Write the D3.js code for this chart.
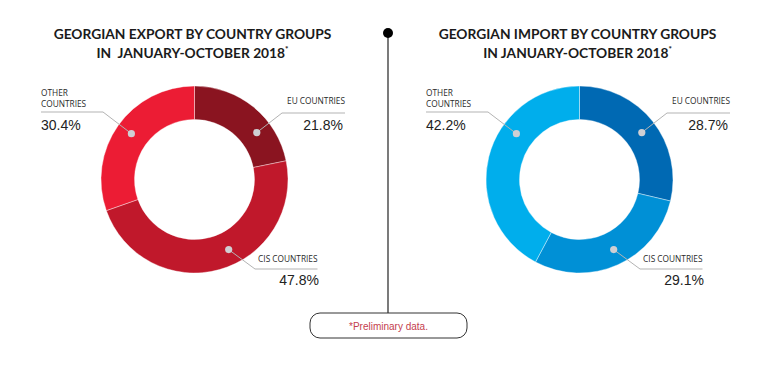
<!DOCTYPE html>
<html>
<head>
<meta charset="utf-8">
<script src="https://cdn.jsdelivr.net/npm/d3@7"></script>
<style>
  body { margin: 0; background: #fff; }
  svg { display: block; }
</style>
</head>
<body>
<svg id="chart"></svg>
<script>
// data
var categories = ["EU COUNTRIES", "CIS COUNTRIES", "OTHER COUNTRIES"];
var exportShares = [21.8, 47.8, 30.4];
var importShares = [28.7, 29.1, 42.2];
var exportTitle = ["GEORGIAN EXPORT BY COUNTRY GROUPS", "IN\u00a0\u00a0JANUARY-OCTOBER 2018"];
var importTitle = ["GEORGIAN IMPORT BY COUNTRY GROUPS", "IN JANUARY-OCTOBER 2018"];
var note = "*Preliminary data.";

var exportColors = ["#8a1420", "#c0182b", "#ec1c34"];
var importColors = ["#0069b3", "#0090d6", "#00aeec"];

var width = 783, height = 378;
var outerR = 93.5, innerR = 60, dotR = 78;

var svg = d3.select("#chart")
  .attr("width", width)
  .attr("height", height);

var pie = d3.pie().sort(null).value(d => d);
var arc = d3.arc().innerRadius(innerR).outerRadius(outerR);

// where the leader dots sit on the ring (degrees from 12 o'clock), and label layout
var layout = [
  { angle: 53, elbow: [87.5, -66.5], end: 150.5, anchor: "end", nameY: -75.5, pctX: -2, pctY: -49.5 },
  { angle: 154, elbow: [60.5, 89.5], end: 123, anchor: "end", nameY: 82.5, pctX: 1.5, pctY: 105.5 },
  { angle: -54, elbow: [-91.5, -67.5], end: -153.5, anchor: "start", nameY: -83.5, pctX: 0, pctY: -49.5 }
];

function drawDonut(cx, cy, shares, colors, title) {
  var g = svg.append("g").attr("transform", "translate(" + cx + "," + cy + ")");

  g.selectAll("path.slice")
    .data(pie(shares))
    .enter()
    .append("path")
    .attr("class", "slice")
    .attr("d", arc)
    .attr("fill", (d, i) => colors[i])
    .attr("stroke", "#fff")
    .attr("stroke-width", 0.4);

  // title, sized so the first line spans ~278px like the original
  var t = svg.append("text")
    .attr("text-anchor", "middle")
    .attr("font-family", "Lato")
    .attr("font-weight", "bold")
    .attr("font-size", "13px")
    .attr("fill", "#1b1b1b");
  var l1 = t.append("tspan").attr("x", cx - 2).attr("y", 39).text(title[0]);
  var fs = 13 * 278 / l1.node().getComputedTextLength();
  t.attr("font-size", fs + "px");
  t.append("tspan").attr("x", cx - 2).attr("y", 58).text(title[1]);
  t.append("tspan").attr("dy", -6).attr("font-size", "8px").attr("font-weight", "900").text("*");

  // leaders and labels
  categories.forEach(function(c, i) {
    var L = layout[i];
    var a = L.angle * Math.PI / 180;
    var dx = dotR * Math.sin(a), dy = -dotR * Math.cos(a);

    g.append("polyline")
      .attr("points", [[dx, dy], L.elbow, [L.end, L.elbow[1]]].map(p => p.join(",")).join(" "))
      .attr("fill", "none")
      .attr("stroke", "#b3b3b3")
      .attr("stroke-width", 1);

    g.append("circle")
      .attr("cx", dx)
      .attr("cy", dy)
      .attr("r", 3.6)
      .attr("fill", "#cfcfd3");

    var words = i === 2 ? ["OTHER", "COUNTRIES"] : [c];
    var nt = g.append("text")
      .attr("text-anchor", L.anchor)
      .attr("font-family", "Open Sans")
      .attr("font-size", "8.3px")
      .attr("fill", "#2a2a2a");
    words.forEach(function(w, k) {
      nt.append("tspan")
        .attr("x", L.end)
        .attr("y", L.nameY + k * 11)
        .text(w);
    });

    g.append("text")
      .attr("x", L.end + L.pctX)
      .attr("y", L.pctY)
      .attr("text-anchor", L.anchor)
      .attr("font-family", "Liberation Sans, Arial")
      .attr("font-size", "14px")
      .attr("fill", "#222")
      .text(shares[i].toFixed(1) + "%");
  });
}

drawDonut(194.5, 179.5, exportShares, exportColors, exportTitle);
drawDonut(579.5, 179.5, importShares, importColors, importTitle);

// centre divider with the note box
svg.append("line")
  .attr("x1", 388).attr("x2", 388)
  .attr("y1", 33).attr("y2", 313)
  .attr("stroke", "#222")
  .attr("stroke-width", 1.2);

svg.append("circle")
  .attr("cx", 388).attr("cy", 33).attr("r", 5)
  .attr("fill", "#000");

svg.append("rect")
  .attr("x", 310).attr("y", 313)
  .attr("width", 157).attr("height", 25)
  .attr("rx", 10)
  .attr("fill", "#fff")
  .attr("stroke", "#333")
  .attr("stroke-width", 1);

svg.append("text")
  .attr("x", 388.5).attr("y", 329.5)
  .attr("text-anchor", "middle")
  .attr("font-family", "Liberation Sans, Arial")
  .attr("font-size", "10px")
  .attr("fill", "#c4404e")
  .text(note);
</script>
</body>
</html>
